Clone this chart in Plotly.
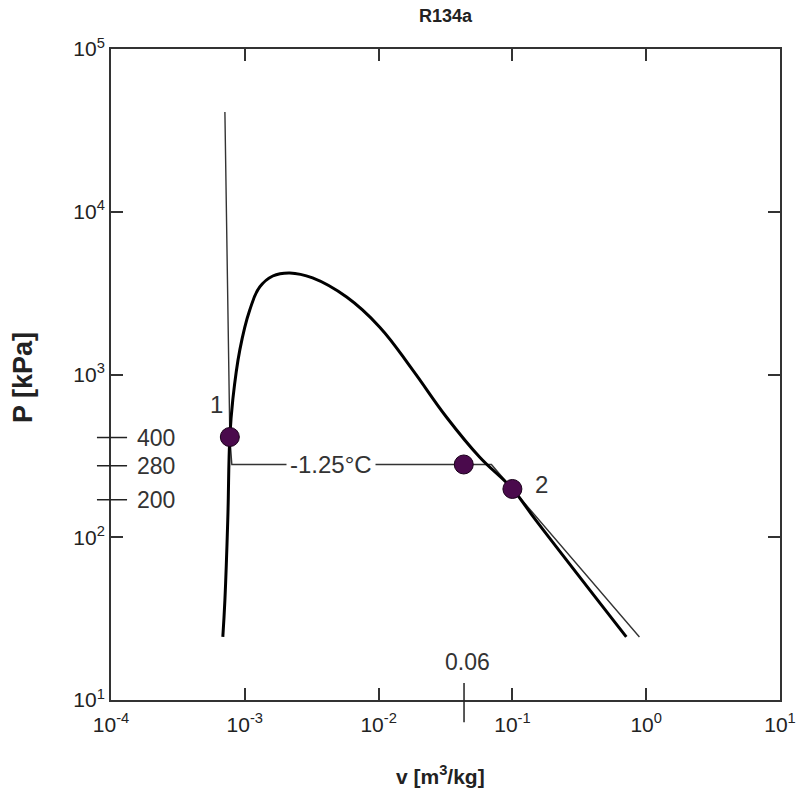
import numpy as np
import plotly.graph_objects as go

# ---------------- data ----------------
# saturation dome (liquid + vapour lines), v [m3/kg], P [kPa]
dome_v = [6.85e-4, 7.10e-4, 7.46e-4, 7.73e-4, 8.13e-4, 9.18e-4, 1.089e-3, 1.294e-3,
          1.618e-3, 2.17e-3, 3.21e-3, 5.77e-3, 0.01016, 0.01795, 0.0321, 0.0568,
          0.1, 0.151, 0.71]
dome_p = [24.4, 41.1, 128, 413, 697, 1416, 2490, 3450,
          4030, 4210, 3920, 2990, 1960, 1067, 548, 311,
          198, 126, 24.4]

# -1.25 °C isotherm
iso_v = [7.10e-4, 7.73e-4, 8.0e-4, 0.0697, 0.1, 0.89]
iso_p = [41000, 413, 280, 280, 198, 24.4]

# state points
pt_v = [7.73e-4, 0.0433, 0.1]
pt_p = [413, 280, 198]
pt_labels = ["1", "", "2"]

# custom marked values
ptick_vals = [410, 275, 170]
ptick_text = ["400", "280", "200"]
vtick_val = 0.0435
vtick_text = "0.06"
iso_label = "-1.25°C"
iso_label_v = 0.0043
iso_label_p = 280

x_range = [-4, 1]
y_range = [1, 5]
x_tickvals = [1e-4, 1e-3, 1e-2, 1e-1, 1e0, 1e1]
x_ticktext = ["10<sup>-4</sup>", "10<sup>-3</sup>", "10<sup>-2</sup>",
              "10<sup>-1</sup>", "10<sup>0</sup>", "10<sup>1</sup>"]
y_tickvals = [1e1, 1e2, 1e3, 1e4, 1e5]
y_ticktext = ["10<sup>1</sup>", "10<sup>2</sup>", "10<sup>3</sup>",
              "10<sup>4</sup>", "10<sup>5</sup>"]

FONT = "Liberation Sans, Arial, sans-serif"

fig = go.Figure()
fig.add_trace(go.Scatter(x=iso_v, y=iso_p, mode="lines",
                         line=dict(color="#333333", width=1.4), hoverinfo="skip"))
fig.add_trace(go.Scatter(x=dome_v, y=dome_p, mode="lines",
                         line=dict(color="black", width=3, shape="spline", smoothing=1.2),
                         hoverinfo="skip"))
fig.add_trace(go.Scatter(x=pt_v, y=pt_p, mode="markers",
                         marker=dict(size=19, color="#4a0a4c",
                                     line=dict(color="#1a001a", width=1)),
                         hoverinfo="skip"))

annotations = []
# point labels
annotations.append(dict(x=np.log10(pt_v[0]), y=np.log10(pt_p[0]), xref="x", yref="y",
                        text=pt_labels[0], showarrow=False, xshift=-13, yshift=33,
                        font=dict(family=FONT, size=24, color="#333")))
annotations.append(dict(x=np.log10(pt_v[2]), y=np.log10(pt_p[2]), xref="x", yref="y",
                        text=pt_labels[2], showarrow=False, xshift=29, yshift=4,
                        font=dict(family=FONT, size=24, color="#333")))
# isotherm label breaking the line
annotations.append(dict(x=np.log10(iso_label_v), y=np.log10(iso_label_p), xref="x", yref="y",
                        text=iso_label, showarrow=False, bgcolor="white", borderpad=3,
                        xshift=1,
                        font=dict(family=FONT, size=24, color="#333")))
# custom pressure ticks
shapes = []
for val, txt in zip(ptick_vals, ptick_text):
    shapes.append(dict(type="line", xref="paper", yref="y",
                       x0=-0.021, x1=0.024, y0=val, y1=val,
                       line=dict(color="#222", width=1.5)))
    annotations.append(dict(x=0.036, y=np.log10(val), xref="paper", yref="y",
                            text=txt, showarrow=False, xanchor="left", yanchor="middle",
                            font=dict(family=FONT, size=23, color="#333")))
# custom volume tick
shapes.append(dict(type="line", xref="x", yref="paper",
                   x0=vtick_val, x1=vtick_val, y0=0.026, y1=-0.034,
                   line=dict(color="#222", width=1.5)))
annotations.append(dict(x=np.log10(vtick_val), y=0.058, xref="x", yref="paper",
                        text=vtick_text, showarrow=False, xshift=3,
                        xanchor="center", yanchor="middle",
                        font=dict(family=FONT, size=23, color="#333")))
# axis titles
annotations.append(dict(x=0.492, y=-0.115, xref="paper", yref="paper",
                        xanchor="center", yanchor="middle",
                        text="<b>v [m<sup>3</sup>/kg]</b>", showarrow=False,
                        font=dict(family=FONT, size=21, color="#222")))
annotations.append(dict(x=-0.1315, y=0.4946, xref="paper", yref="paper",
                        xanchor="center", yanchor="middle",
                        text="<b>P [kPa]</b>", showarrow=False, textangle=-90,
                        font=dict(family=FONT, size=27, color="#222")))

axis_common = dict(showgrid=False, zeroline=False, showline=True, linecolor="#333",
                   linewidth=2, mirror="ticks", ticks="inside", ticklen=12,
                   tickwidth=1.5, tickcolor="#333", automargin=False,
                   ticklabeloverflow="allow",
                   tickfont=dict(family=FONT, size=21, color="#222"))

fig.update_layout(
    width=796, height=799,
    margin=dict(l=111, r=16, t=49, b=99),
    paper_bgcolor="white", plot_bgcolor="white",
    showlegend=False,
    title=dict(text="<b>R134a</b>", x=0.5, xref="paper", y=1 - 16 / 799, yref="container",
               yanchor="middle", font=dict(family=FONT, size=18, color="#222")),
    xaxis=dict(type="log", range=x_range, tickvals=x_tickvals, ticktext=x_ticktext,
               ticklabelstandoff=5, **axis_common),
    yaxis=dict(type="log", range=y_range, tickvals=y_tickvals, ticktext=y_ticktext,
               ticklabelstandoff=0, **axis_common),
    annotations=annotations, shapes=shapes,
)

fig.write_html("out.html",
               config={"displayModeBar": False},
               post_script="document.body.style.margin='0';"
                           "document.body.style.overflow='hidden';")
